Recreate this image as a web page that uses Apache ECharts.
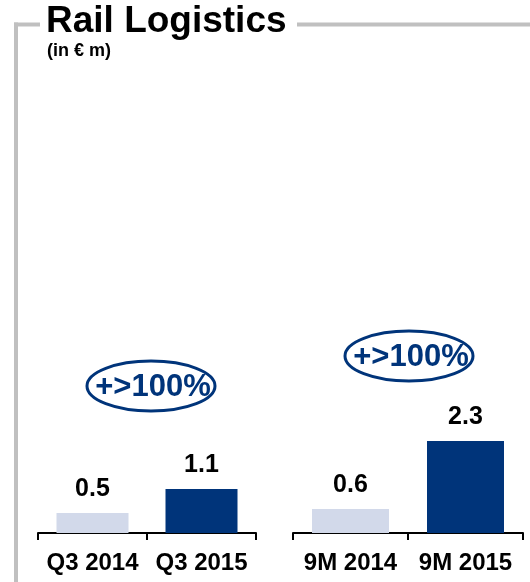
<!DOCTYPE html>
<html>
<head>
<meta charset="utf-8">
<script src="https://cdn.jsdelivr.net/npm/echarts@6/dist/echarts.min.js"></script>
<style>
  html, body { margin: 0; padding: 0; background: #fff; }
  #chart { width: 530px; height: 582px; }
</style>
</head>
<body>
<div id="chart"></div>
<script>
// Quarter comparison
const categoriesQ3 = ['Q3 2014', 'Q3 2015'];
const valuesQ3 = [0.5, 1.1];
// Nine-month comparison
const categories9M = ['9M 2014', '9M 2015'];
const values9M = [0.6, 2.3];
// Growth callouts above each pair
const growthQ3 = '+>100%';
const growth9M = '+>100%';

const NAVY = '#00347a';
const LIGHT = '#d2d9ea';
const FRAME = '#c0c0c0';
const FONT = 'Arial, "Liberation Sans", sans-serif';

function colored(values) {
  return values.map((v, i) => ({
    value: v,
    itemStyle: { color: i === 0 ? LIGHT : NAVY }
  }));
}

function xAxis(gridIndex, data) {
  return {
    type: 'category',
    gridIndex: gridIndex,
    data: data,
    axisLine: { lineStyle: { color: '#000', width: 2 } },
    axisTick: { show: true, length: 7, lineStyle: { color: '#000', width: 2 } },
    axisLabel: {
      interval: 0, margin: 18, color: '#000', fontFamily: FONT,
      fontWeight: 'bold', fontSize: 24
    }
  };
}

function yAxis(gridIndex) {
  return { type: 'value', gridIndex: gridIndex, min: 0, max: 3, show: false };
}

function barSeries(idx, values, width) {
  return {
    type: 'bar',
    xAxisIndex: idx,
    yAxisIndex: idx,
    data: colored(values),
    barWidth: width,
    label: {
      show: true, position: 'top', distance: 11,
      color: '#000', fontFamily: FONT, fontWeight: 'bold', fontSize: 25,
      formatter: p => p.value.toFixed(1)
    },
    silent: true
  };
}

function callout(cx, cy, text) {
  return [
    {
      type: 'ellipse',
      shape: { cx: cx, cy: cy, rx: 64, ry: 25 },
      style: { fill: null, stroke: NAVY, lineWidth: 3 }
    },
    {
      type: 'text',
      x: cx + 2, y: cy + 1,
      style: {
        text: text, fill: NAVY, font: 'bold 31px ' + FONT,
        align: 'center', verticalAlign: 'middle'
      }
    }
  ];
}

const chart = echarts.init(document.getElementById('chart'), null, { renderer: 'canvas' });

chart.setOption({
  animation: false,
  backgroundColor: '#fff',
  grid: [
    { left: 38, top: 413, width: 218, height: 120 },
    { left: 293, top: 413, width: 230, height: 120 }
  ],
  xAxis: [xAxis(0, categoriesQ3), xAxis(1, categories9M)],
  yAxis: [yAxis(0), yAxis(1)],
  series: [barSeries(0, valuesQ3, 72), barSeries(1, values9M, 77)],
  graphic: [
    // grey frame around the panel, broken by the heading
    { type: 'line', shape: { x1: 16, y1: 22.5, x2: 16, y2: 582 }, style: { stroke: FRAME, lineWidth: 4 } },
    { type: 'line', shape: { x1: 14, y1: 24.5, x2: 40, y2: 24.5 }, style: { stroke: FRAME, lineWidth: 4 } },
    { type: 'line', shape: { x1: 297, y1: 24.5, x2: 530, y2: 24.5 }, style: { stroke: FRAME, lineWidth: 4 } },
    {
      type: 'text', x: 46, y: 3,
      style: { text: 'Rail Logistics', fill: '#000', font: 'bold 37px ' + FONT }
    },
    {
      type: 'text', x: 47, y: 42,
      style: { text: '(in € m)', fill: '#000', font: 'bold 18px ' + FONT }
    },
    ...callout(151, 386, growthQ3),
    ...callout(409, 356, growth9M)
  ]
});
</script>
</body>
</html>
